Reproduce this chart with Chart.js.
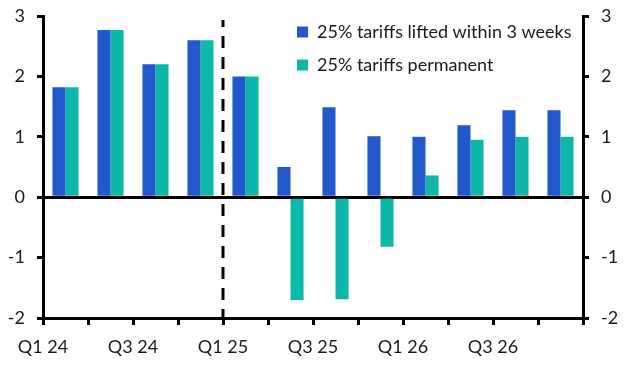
<!DOCTYPE html>
<html>
<head>
<meta charset="utf-8">
<script src="https://cdn.jsdelivr.net/npm/chart.js@4"></script>
<style>
  html, body { margin: 0; padding: 0; background: #ffffff; }
  #wrap { width: 633px; height: 369px; }
</style>
</head>
<body>
<div id="wrap"><canvas id="c" width="633" height="369"></canvas></div>
<script>
const categories = ['Q1 24','Q2 24','Q3 24','Q4 24','Q1 25','Q2 25','Q3 25','Q4 25','Q1 26','Q2 26','Q3 26','Q4 26'];
const tickLabels = ['Q1 24','','Q3 24','','Q1 25','','Q3 25','','Q1 26','','Q3 26','',''];
const liftedWithin3Weeks = [1.82, 2.77, 2.20, 2.60, 2.00, 0.50, 1.49, 1.01, 1.00, 1.19, 1.44, 1.44];
const tariffsPermanent   = [1.82, 2.77, 2.20, 2.60, 2.00, -1.70, -1.69, -0.82, 0.36, 0.95, 1.00, 1.00];
const seriesNames = ['25% tariffs lifted within 3 weeks', '25% tariffs permanent'];
const forecastStartIndex = 4;

const FONT = 'Lato';
const FS = 18;
const TXT = '#1a1a1a';

const legendPlace = {
  id: 'legendPlace',
  afterLayout(chart) {
    const lg = chart.legend;
    const w = lg.width, h = lg.height;
    lg.left = 282; lg.top = 8;
    lg.right = lg.left + w; lg.bottom = lg.top + h;
  }
};

const forecastLine = {
  id: 'forecastLine',
  afterDatasetsDraw(chart) {
    const xs = chart.scales.x, ca = chart.chartArea, ctx = chart.ctx;
    const px = (xs.getPixelForValue(forecastStartIndex - 1) + xs.getPixelForValue(forecastStartIndex)) / 2;
    ctx.save();
    ctx.strokeStyle = '#000';
    ctx.lineWidth = 3;
    ctx.setLineDash([12, 9]);
    ctx.lineDashOffset = 5;
    ctx.beginPath();
    ctx.moveTo(px, ca.top + 4);
    ctx.lineTo(px, ca.bottom);
    ctx.stroke();
    ctx.restore();
  }
};

function noPad(s) { s.paddingTop = 0; s.paddingBottom = 0; s.paddingLeft = 0; s.paddingRight = 0; }

new Chart(document.getElementById('c'), {
  type: 'bar',
  data: {
    labels: categories,
    datasets: [
      { label: seriesNames[0], data: liftedWithin3Weeks, backgroundColor: '#2158CC', borderWidth: 0,
        categoryPercentage: 0.58, barPercentage: 1.0 },
      { label: seriesNames[1], data: tariffsPermanent, backgroundColor: '#0DB8AB', borderWidth: 0,
        categoryPercentage: 0.58, barPercentage: 1.0 }
    ]
  },
  options: {
    responsive: false,
    animation: false,
    layout: { padding: { left: 0, right: 0, top: 16, bottom: 0 } },
    plugins: {
      legend: {
        position: 'chartArea',
        align: 'start',
        labels: {
          boxWidth: 11, boxHeight: 11, padding: 15, color: TXT,
          font: { family: FONT, size: FS }
        }
      },
      tooltip: { enabled: false }
    },
    scales: {
      x: {
        type: 'category',
        offset: true,
        grid: { offset: true, drawOnChartArea: false, drawTicks: true, tickLength: 7, color: '#000', lineWidth: 3 },
        border: { display: true, color: '#000', width: 3 },
        ticks: { display: false },
        afterFit: (s) => { s.height = 7; noPad(s); }
      },
      x2: {
        type: 'category',
        position: 'bottom',
        labels: tickLabels,
        offset: false,
        grid: { display: false, drawTicks: false },
        border: { display: false },
        ticks: { autoSkip: false, maxRotation: 0, minRotation: 0, padding: 11, color: TXT,
                 font: { family: FONT, size: FS } },
        afterFit: (s) => { s.height = 44; noPad(s); }
      },
      y: {
        position: 'left',
        min: -2, max: 3,
        ticks: { stepSize: 1, padding: 12, color: TXT, font: { family: FONT, size: FS } },
        grid: {
          drawOnChartArea: true, drawTicks: true, tickLength: 6, tickWidth: 3, tickColor: '#000',
          lineWidth: 3,
          color: (c) => (c.tick && c.tick.value === 0) ? '#000' : 'rgba(0,0,0,0)'
        },
        border: { display: true, color: '#000', width: 3 },
        afterFit: (s) => { s.width = 43; noPad(s); }
      },
      y2: {
        position: 'right',
        min: -2, max: 3,
        ticks: { stepSize: 1, padding: 12, color: TXT, font: { family: FONT, size: FS } },
        grid: { drawOnChartArea: false, drawTicks: true, tickLength: 6, tickWidth: 3, tickColor: '#000', lineWidth: 3 },
        border: { display: true, color: '#000', width: 3 },
        afterFit: (s) => { s.width = 50; noPad(s); }
      }
    }
  },
  plugins: [legendPlace, forecastLine]
});
</script>
</body>
</html>
